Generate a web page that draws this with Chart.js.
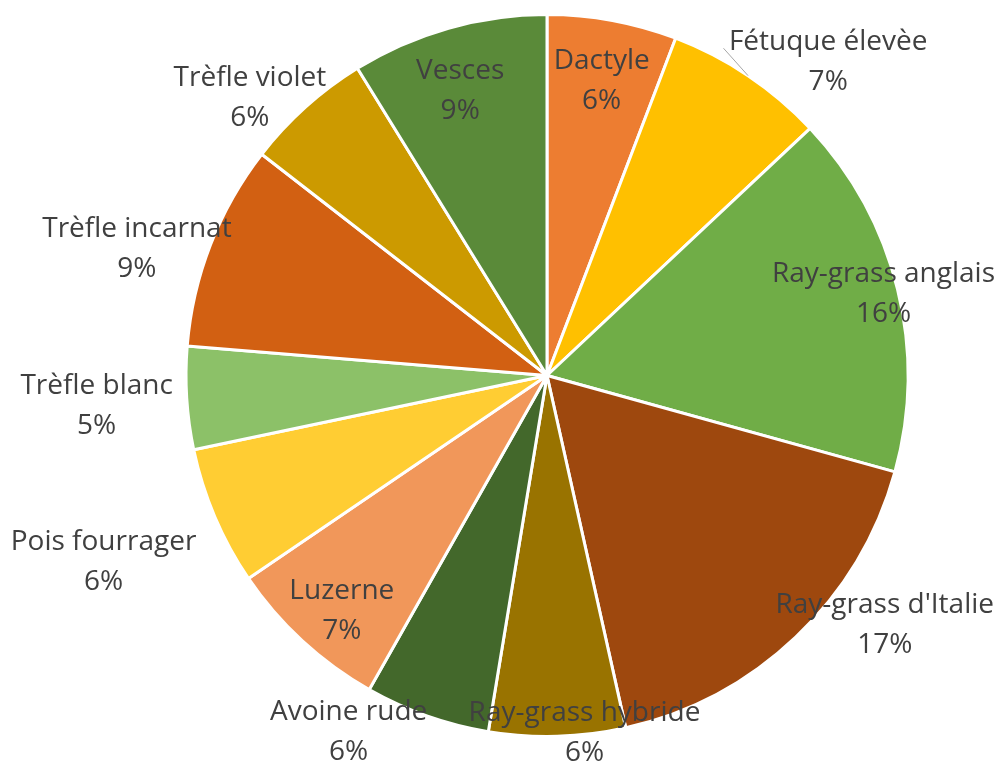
<!DOCTYPE html>
<html>
<head>
<meta charset="utf-8">
<script src="https://cdn.jsdelivr.net/npm/chart.js@4/dist/chart.umd.min.js"></script>
<style>
  html, body { margin: 0; padding: 0; background: #fff; }
  #wrap { width: 1003px; height: 765px; }
</style>
</head>
<body>
<div id="wrap"><canvas id="pieChart" width="1003" height="765"></canvas></div>
<script>
const categories = ["Dactyle", "Fétuque élevèe", "Ray-grass anglais", "Ray-grass d'Italie",
  "Ray-grass hybride", "Avoine rude", "Luzerne", "Pois fourrager", "Trèfle blanc",
  "Trèfle incarnat", "Trèfle violet", "Vesces"];
const values = [5.8, 7.2, 16.3, 17.2, 6.1, 5.6, 7.3, 6.2, 4.6, 9.2, 5.7, 8.8];
const colors = ["#ED7D31", "#FFC000", "#70AD47", "#9E480E", "#997300", "#43682B",
  "#F1975A", "#FFCD33", "#8CC168", "#D26012", "#CC9A00", "#5A8A39"];

// placement des étiquettes (décalage angulaire en degrés, facteur du rayon)
const labelShift = [0, 7.9, 0, -10.2, -4.4, 9.8, -1.3, 0.5, 0, -3.9, -4.8, -1];
const labelRadius = [0.836, 1.17, 0.96, 1.16, 0.99, 1.125, 0.86, 1.33, 1.25, 1.19, 1.13, 0.83];
const leader = [false, true, false, false, false, false, false, false, false, false, false, false];

const labelsPlugin = {
  id: "pieLabels",
  afterDatasetsDraw(chart) {
    const ctx = chart.ctx;
    const meta = chart.getDatasetMeta(0);
    const total = values.reduce((a, b) => a + b, 0);
    ctx.save();
    ctx.font = "28px 'Open Sans'";
    ctx.fillStyle = "#404040";
    ctx.textAlign = "center";
    ctx.textBaseline = "alphabetic";
    meta.data.forEach((arc, i) => {
      const mid = (arc.startAngle + arc.endAngle) / 2;
      const a = mid + labelShift[i] * Math.PI / 180;
      const r = arc.outerRadius * labelRadius[i];
      const x = arc.x + Math.cos(a) * r;
      const y = arc.y + Math.sin(a) * r;
      if (leader[i]) {
        const a2 = mid - 5.5 * Math.PI / 180;
        ctx.strokeStyle = "#A6A6A6";
        ctx.lineWidth = 1;
        ctx.beginPath();
        ctx.moveTo(arc.x + Math.cos(mid) * arc.outerRadius, arc.y + Math.sin(mid) * arc.outerRadius);
        ctx.lineTo(arc.x + Math.cos(a2) * arc.outerRadius * 1.03, arc.y + Math.sin(a2) * arc.outerRadius * 1.03);
        ctx.stroke();
      }
      const pct = Math.round(values[i] / total * 100) + "%";
      ctx.fillText(categories[i], x, y - 10);
      ctx.fillText(pct, x, y + 30);
    });
    ctx.restore();
  }
};

new Chart(document.getElementById("pieChart"), {
  type: "pie",
  data: {
    labels: categories,
    datasets: [{
      data: values,
      backgroundColor: colors,
      borderColor: "#fff",
      borderWidth: 3,
    }],
  },
  options: {
    responsive: false,
    animation: false,
    layout: { padding: { left: 140, right: 49, top: 13, bottom: 27 } },
    plugins: {
      legend: { display: false },
      tooltip: { enabled: false },
    },
  },
  plugins: [labelsPlugin],
});
</script>
</body>
</html>
